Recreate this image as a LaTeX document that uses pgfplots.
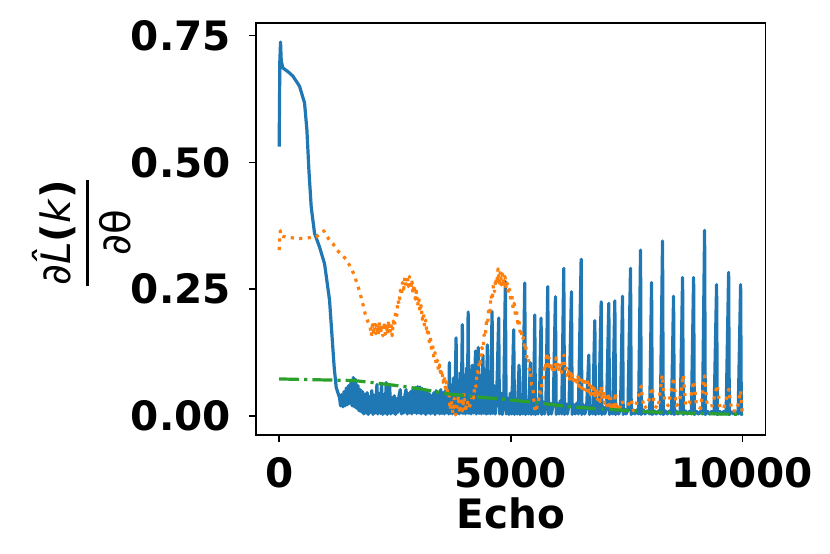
\documentclass[border=0pt]{standalone}
\usepackage{fontspec}
\setmainfont{DejaVu Sans}
\usepackage{pgfplots}
\pgfplotsset{compat=1.18}
\definecolor{tabblue}{HTML}{1F77B4}
\definecolor{taborange}{HTML}{FF7F0E}
\definecolor{tabgreen}{HTML}{2CA02C}
\newcommand{\bigfont}{\fontsize{40.5}{48}\selectfont}
\begin{document}
\begin{tikzpicture}
\useasboundingbox (-256pt,-119.3pt) rectangle (574pt,434.7pt);
\begin{axis}[
  at={(0,0)}, anchor=south west,
  scale only axis, width=509.5pt, height=411.4pt,
  xmin=-500, xmax=10500, ymin=-0.0369, ymax=0.774,
  xtick={0,5000,10000}, xticklabels={0,5000,10000},
  ytick={0,0.25,0.5,0.75}, yticklabels={0.00,0.25,0.50,0.75},
  scaled x ticks=false, scaled y ticks=false,
  xtick pos=bottom, ytick pos=left,
  tick align=outside, major tick length=7pt,
  every tick/.style={black, line width=1.6pt},
  axis line style={line width=1.6pt, black},
  tick label style={font=\bigfont\bfseries, inner sep=0pt},
  xticklabel style={anchor=north, yshift=-16pt},
  yticklabel style={anchor=east, xshift=-18pt},
  every axis x label/.style={at={(axis description cs:0.5,0)}, anchor=north, yshift=-63.3pt, inner sep=0pt, font=\bigfont\bfseries},
  every axis y label/.style={at={(axis description cs:0,0.5)}, anchor=center, xshift=-174pt, yshift=-4pt, rotate=90, inner sep=0pt, font=\bigfont},
  xlabel={Echo},
  ylabel={$\displaystyle{\mbox{∂\textit{\^{L}}\textbf{(}\textit{k}\textbf{)}}\above 3.5pt\mbox{∂θ}}$},
]
% blue series
\addplot[color=tabblue, line width=3.2pt, line join=round] coordinates {
(0,0.531) (15,0.70) (30,0.737) (45,0.70) (80,0.686) (200,0.678) (296,0.670) (440,0.650)
(548,0.617) (599,0.564) (642,0.485) (692,0.412) (764,0.360) (872,0.333) (980,0.300) (1030,0.267)
(1088,0.228) (1138,0.162) (1188,0.096) (1232,0.056) (1304,0.036)
(1325,0.020) (1350,0.042) (1375,0.018) (1400,0.048) (1425,0.020) (1450,0.055) (1475,0.022)
(1500,0.060) (1525,0.025) (1550,0.068) (1575,0.020) (1600,0.076) (1625,0.018) (1650,0.072)
(1675,0.015) (1700,0.060) (1725,0.010) (1750,0.052) (1775,0.008) (1800,0.048) (1825,0.004)
(1850,0.043) (1875,0.006) (1900,0.046) (1925,0.003) (1950,0.038) (1975,0.007) (2000,0.050)
(2025,0.003) (2050,0.041) (2075,0.006) (2111,0.062) (2130,0.004) (2160,0.044) (2185,0.005)
(2210,0.064) (2235,0.003) (2260,0.042) (2285,0.006) (2312,0.066) (2335,0.003) (2360,0.038)
(2385,0.060) (2410,0.004) (2435,0.036) (2460,0.006) (2485,0.040) (2510,0.003) (2535,0.034)
(2560,0.007) (2585,0.038) (2615,0.052) (2640,0.004) (2665,0.036) (2690,0.006) (2715,0.041)
(2740,0.052) (2765,0.004) (2790,0.044) (2815,0.006) (2840,0.048) (2865,0.004) (2890,0.052)
(2915,0.007) (2940,0.056) (2965,0.005) (2990,0.058) (3015,0.006) (3040,0.057) (3065,0.004)
(3090,0.054) (3115,0.006) (3140,0.051) (3165,0.003) (3190,0.048) (3215,0.006) (3240,0.044)
(3265,0.004) (3290,0.040) (3315,0.006) (3340,0.046) (3365,0.003) (3390,0.050) (3415,0.006)
(3440,0.043) (3465,0.004) (3490,0.052) (3515,0.005) (3540,0.046) (3565,0.004) (3590,0.050)
(3615,0.006) (3640,0.047) (3660,0.004)
(3675,0.105) (3690,0.005) (3715,0.060) (3740,0.004) (3765,0.075) (3790,0.006) (3820,0.154)
(3835,0.005) (3860,0.070) (3885,0.004) (3910,0.085) (3930,0.006) (3955,0.180) (3970,0.005)
(3995,0.080) (4020,0.004) (4050,0.095) (4065,0.006) (4080,0.205) (4095,0.005) (4120,0.090)
(4145,0.004) (4170,0.100) (4195,0.006) (4240,0.128) (4255,0.004) (4280,0.095) (4300,0.135)
(4315,0.005) (4340,0.080) (4365,0.004) (4400,0.120) (4420,0.005) (4445,0.090) (4470,0.004)
(4495,0.140) (4510,0.005) (4535,0.075) (4560,0.004) (4597,0.206) (4612,0.005) (4640,0.060)
(4665,0.004) (4700,0.050) (4740,0.193) (4755,0.004) (4790,0.045) (4815,0.003) (4850,0.040)
(4884,0.265) (4900,0.004) (4930,0.035) (4960,0.003) (4990,0.045) (5020,0.004) (5064,0.170)
(5080,0.003) (5110,0.030) (5140,0.004) (5180,0.100) (5200,0.003) (5230,0.035) (5260,0.004)
(5302,0.262) (5318,0.003) (5350,0.030) (5380,0.004) (5425,0.105) (5440,0.003) (5470,0.030)
(5495,0.004) (5518,0.199) (5533,0.003) (5565,0.028) (5590,0.004) (5620,0.030) (5655,0.193)
(5670,0.003) (5700,0.028) (5730,0.004) (5760,0.030) (5799,0.255) (5815,0.003) (5850,0.025)
(5880,0.004) (5920,0.028) (5965,0.235) (5980,0.003) (6010,0.025) (6040,0.004) (6070,0.030)
(6100,0.004) (6145,0.291) (6160,0.003) (6195,0.024) (6225,0.004) (6260,0.026) (6311,0.245)
(6326,0.003) (6360,0.022) (6390,0.004) (6420,0.025) (6460,0.004) (6520,0.309) (6535,0.003)
(6570,0.022) (6600,0.004) (6640,0.020) (6685,0.120) (6700,0.003) (6740,0.020) (6770,0.004)
(6815,0.188) (6830,0.003) (6870,0.018) (6900,0.004) (6952,0.225) (6967,0.003) (7000,0.018)
(7030,0.004) (7070,0.016) (7117,0.222) (7132,0.003) (7170,0.016) (7200,0.004) (7247,0.227)
(7262,0.003) (7300,0.015) (7330,0.004) (7370,0.014) (7413,0.236) (7428,0.003) (7460,0.014)
(7490,0.004) (7530,0.012) (7586,0.291) (7601,0.003) (7640,0.012) (7680,0.004) (7720,0.012)
(7760,0.004) (7802,0.327) (7817,0.003) (7860,0.012) (7900,0.004) (7950,0.010) (8000,0.004)
(8040,0.263) (8055,0.003) (8100,0.010) (8140,0.004) (8190,0.010) (8230,0.004) (8277,0.345)
(8292,0.003) (8340,0.010) (8380,0.004) (8430,0.010) (8470,0.004) (8515,0.236) (8530,0.003)
(8570,0.010) (8610,0.004) (8660,0.010) (8710,0.273) (8725,0.003) (8770,0.010) (8810,0.004)
(8860,0.009) (8900,0.004) (8948,0.273) (8963,0.003) (9010,0.009) (9050,0.004) (9100,0.009)
(9140,0.004) (9185,0.366) (9200,0.003) (9250,0.009) (9290,0.004) (9340,0.009) (9390,0.004)
(9444,0.259) (9459,0.003) (9510,0.009) (9550,0.004) (9600,0.009) (9650,0.004) (9704,0.283)
(9719,0.003) (9770,0.008) (9810,0.004) (9860,0.008) (9910,0.004) (9963,0.259) (9978,0.003)
(10000,0.005)
};
% orange series
\addplot[color=taborange, line width=3.2pt, line join=round, dash pattern=on 3.2pt off 5.3pt] coordinates {
(0,0.327) (10,0.345) (25,0.365) (50,0.355) (80,0.354) (200,0.352) (400,0.350) (548,0.350)
(700,0.352) (800,0.353) (900,0.360) (965,0.365) (1000,0.358) (1100,0.345) (1160,0.340)
(1246,0.327) (1350,0.318) (1462,0.307) (1530,0.295) (1606,0.281) (1680,0.262) (1750,0.241)
(1810,0.220) (1858,0.201) (1920,0.185) (1966,0.175)
(1990,0.158) (2015,0.180) (2040,0.160) (2065,0.184) (2090,0.162) (2115,0.182) (2140,0.159)
(2165,0.186) (2190,0.163) (2215,0.180) (2240,0.158) (2265,0.185) (2290,0.161) (2315,0.182)
(2340,0.160) (2365,0.188) (2390,0.164) (2415,0.181) (2440,0.158) (2465,0.187) (2490,0.176)
(2515,0.207) (2540,0.198) (2565,0.228) (2590,0.220) (2615,0.248) (2640,0.238) (2665,0.263)
(2690,0.250) (2715,0.273) (2740,0.256) (2765,0.277) (2790,0.255) (2815,0.275) (2840,0.250)
(2865,0.269) (2890,0.241) (2915,0.259) (2940,0.230) (2965,0.246) (2990,0.218) (3015,0.233)
(3040,0.205) (3065,0.218) (3090,0.190) (3115,0.203) (3140,0.176) (3165,0.189) (3190,0.161)
(3215,0.173) (3240,0.146) (3265,0.156) (3290,0.130) (3315,0.139) (3340,0.114) (3365,0.125)
(3390,0.100) (3415,0.110) (3440,0.088) (3465,0.101) (3490,0.078) (3515,0.091) (3540,0.066)
(3565,0.079) (3590,0.054) (3615,0.067) (3640,0.038) (3665,0.050) (3690,0.012)
(3720,0.030) (3750,0.005) (3780,0.035) (3810,0.002) (3840,0.020) (3870,0.040)
(3900,0.005) (3930,0.030) (3960,0.010) (3990,0.045) (4020,0.008) (4060,0.030) (4100,0.015)
(4150,0.030) (4175,0.045) (4200,0.035) (4225,0.062) (4250,0.058) (4275,0.088) (4300,0.085)
(4325,0.112) (4350,0.105) (4375,0.135) (4400,0.130) (4425,0.160) (4450,0.155) (4475,0.185)
(4500,0.180) (4525,0.212) (4550,0.205) (4575,0.238) (4600,0.228) (4625,0.258) (4650,0.245)
(4675,0.272) (4700,0.260) (4725,0.290) (4750,0.262) (4775,0.285) (4800,0.258) (4825,0.280)
(4850,0.255) (4875,0.275) (4900,0.250) (4925,0.262) (4950,0.240) (4975,0.250) (5000,0.228)
(5025,0.236) (5050,0.212) (5075,0.222) (5100,0.198) (5125,0.206) (5150,0.183) (5175,0.190)
(5200,0.166) (5225,0.172) (5250,0.150) (5275,0.155) (5300,0.132) (5325,0.137) (5350,0.112)
(5375,0.116) (5400,0.088) (5425,0.090) (5450,0.062) (5475,0.060) (5500,0.030) (5525,0.010)
(5550,0.008) (5575,0.025) (5600,0.030) (5625,0.048) (5650,0.045) (5675,0.065) (5700,0.070)
(5725,0.095) (5750,0.090) (5775,0.125) (5800,0.100) (5825,0.115) (5850,0.090) (5875,0.105)
(5900,0.085) (5925,0.100) (5950,0.088) (5975,0.115) (6000,0.090) (6025,0.105) (6050,0.088)
(6075,0.100) (6100,0.085) (6125,0.110) (6150,0.120) (6175,0.090) (6200,0.095) (6225,0.075)
(6250,0.088) (6275,0.070) (6300,0.090) (6325,0.068) (6350,0.080) (6375,0.062) (6400,0.078)
(6425,0.060) (6450,0.080) (6475,0.058) (6500,0.072) (6525,0.055) (6550,0.070) (6575,0.052)
(6600,0.068) (6625,0.050) (6650,0.075) (6675,0.048) (6700,0.062) (6725,0.042) (6750,0.058)
(6775,0.040) (6800,0.055) (6825,0.035) (6850,0.056) (6875,0.032) (6900,0.045) (6925,0.028)
(6950,0.059) (6975,0.030) (7000,0.050) (7025,0.025) (7050,0.038) (7075,0.020) (7100,0.046)
(7125,0.020) (7150,0.043) (7175,0.015) (7200,0.025) (7225,0.012) (7261,0.046) (7280,0.012)
(7300,0.023) (7350,0.015) (7405,0.030) (7450,0.010) (7500,0.015) (7600,0.033)
(7650,0.010) (7700,0.020) (7816,0.059) (7870,0.015) (7950,0.020) (8053,0.057) (8100,0.020)
(8180,0.015) (8270,0.081) (8320,0.030) (8400,0.020) (8522,0.076) (8570,0.020) (8640,0.025)
(8724,0.081) (8780,0.020) (8860,0.025) (8954,0.069) (9010,0.020) (9100,0.015) (9185,0.079)
(9240,0.020) (9350,0.020) (9458,0.061) (9520,0.015) (9600,0.015) (9710,0.053) (9770,0.010)
(9880,0.010) (9963,0.050) (10000,0.005)
};
% green series
\addplot[color=tabgreen, line width=3.2pt, dash pattern=on 20pt off 5pt on 3.2pt off 5pt] coordinates {
(0,0.073) (500,0.072) (1000,0.071) (1600,0.070) (2000,0.066) (2615,0.059) (3000,0.054)
(3696,0.043) (4344,0.037) (4848,0.033) (5569,0.026) (6290,0.018) (7297,0.012) (8000,0.008)
(9000,0.005) (10000,0.003)
};
\end{axis}
\end{tikzpicture}
\end{document}
